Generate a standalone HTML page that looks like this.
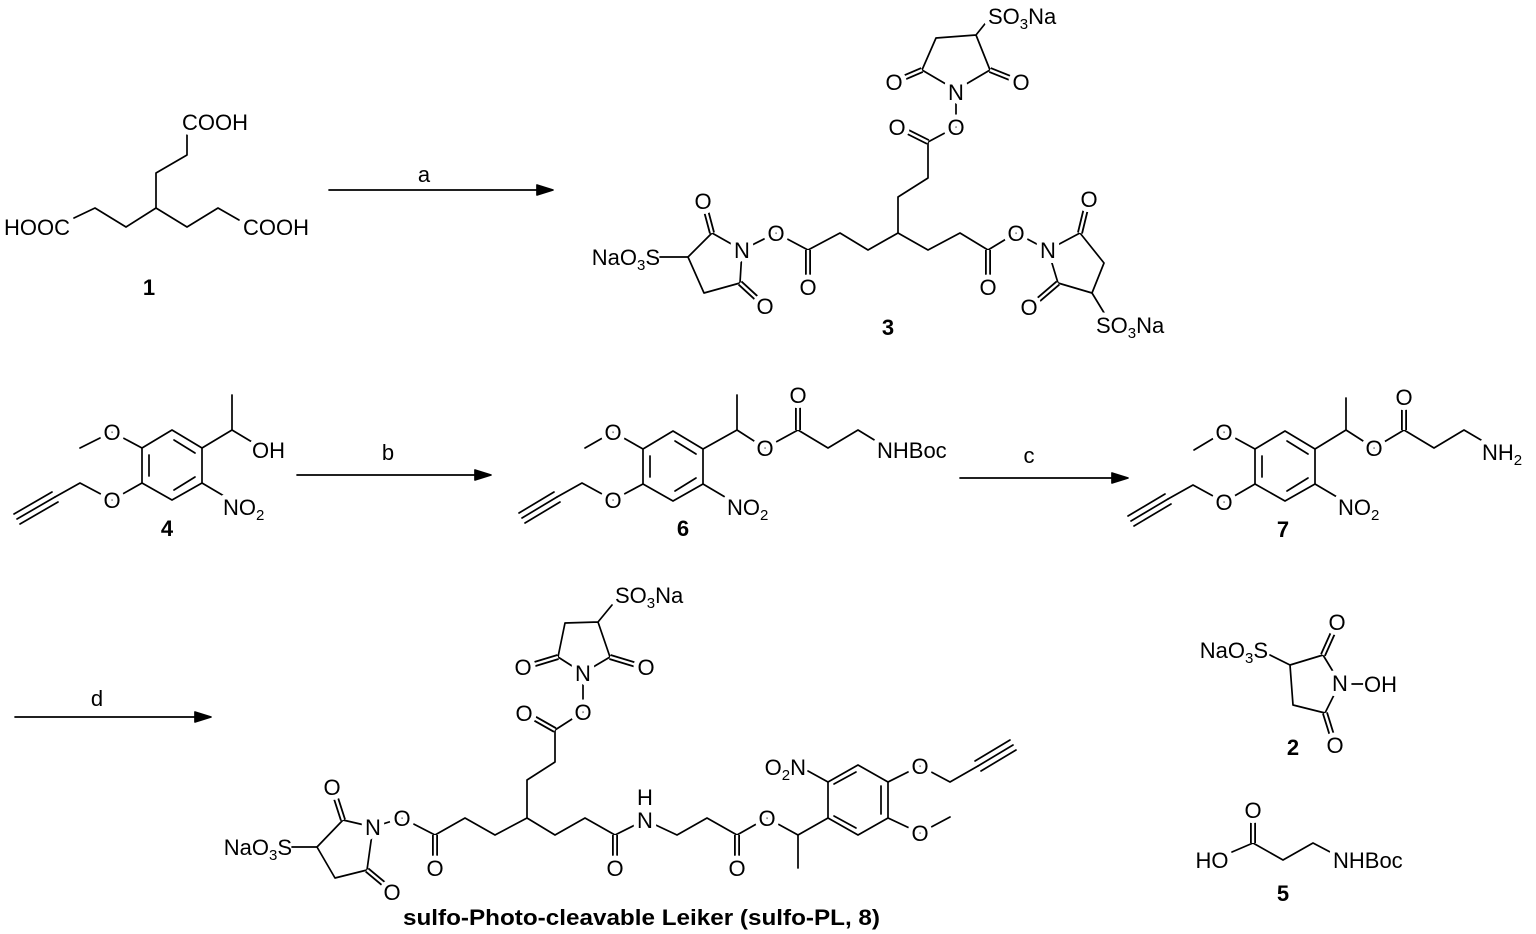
<!DOCTYPE html>
<html><head><meta charset="utf-8"><style>
html,body{margin:0;padding:0;background:#fff;}
svg{display:block;}
line,polyline,polygon{stroke:#000;stroke-width:1.7;fill:none;stroke-linecap:round;stroke-linejoin:round;}
.d1{stroke:#000;stroke-width:6;stroke-linecap:butt;}
.d2{stroke:#fff;stroke-width:2.4;stroke-linecap:butt;}
text{font-family:"Liberation Sans",sans-serif;font-size:22px;fill:#000;stroke:#fff;stroke-width:10px;paint-order:stroke;stroke-linejoin:round;}
tspan{stroke:none;}
.m{text-anchor:middle;}
.e{text-anchor:end;}
.b{font-weight:bold;}
.s{font-size:15px;}
</style></head><body>
<svg width="1536" height="934" viewBox="0 0 1536 934" xmlns="http://www.w3.org/2000/svg">
<defs>
<g id="ringA">
<polygon points="30,-17 0,-35 -30,-17 -30,18 0,35 30,18"/>
<line x1="23" y1="-12" x2="2" y2="-25"/>
<line x1="-23" y1="-10" x2="-23" y2="11"/>
<line x1="2" y1="25" x2="23" y2="12"/>
</g>
</defs>

<!-- compound 1 -->
<polyline points="187,132 187,155 156,173 156,208 126,227 95,208 74,218"/>
<polyline points="156,208 187,227 218,208 239,220"/>
<text class="m" x="215" y="130">COOH</text>
<text class="m" x="37" y="235">HOOC</text>
<text class="m" x="276" y="235">COOH</text>
<text class="m b" x="149" y="295">1</text>

<!-- arrow a -->
<line x1="329" y1="190" x2="540" y2="190"/>
<polygon points="553,190 537,185 537,195" style="fill:#000"/>
<text class="m" x="424" y="182">a</text>

<!-- compound 3 -->
<polyline points="988,20 976,35 936,38 922,70 956,90 990,70 976,35"/>
<line class="d1" x1="922" y1="70" x2="894" y2="82"/><line class="d2" x1="922" y1="70" x2="894" y2="82"/>
<line class="d1" x1="990" y1="70" x2="1020" y2="82"/><line class="d2" x1="990" y1="70" x2="1020" y2="82"/>
<polyline points="956,90 956,127 928,142 928,178 898,197 898,233 868,250 840,233 808,250 776,233 742,250"/>
<line class="d1" x1="928" y1="142" x2="898" y2="127"/><line class="d2" x1="928" y1="142" x2="898" y2="127"/>
<line class="d1" x1="808" y1="250" x2="808" y2="287"/><line class="d2" x1="808" y1="250" x2="808" y2="287"/>
<polyline points="742,250 712,233 688,257 704,293 740,283 742,250"/>
<line x1="688" y1="257" x2="660" y2="257"/>
<line class="d1" x1="712" y1="233" x2="704" y2="203"/><line class="d2" x1="712" y1="233" x2="704" y2="203"/>
<line class="d1" x1="740" y1="283" x2="764" y2="305"/><line class="d2" x1="740" y1="283" x2="764" y2="305"/>
<polyline points="898,233 928,250 960,233 988,250 1016,233 1048,250"/>
<line class="d1" x1="988" y1="250" x2="988" y2="287"/><line class="d2" x1="988" y1="250" x2="988" y2="287"/>
<polyline points="1048,250 1080,233 1104,263 1092,293 1058,283 1048,250"/>
<line x1="1092" y1="293" x2="1106" y2="316"/>
<line class="d1" x1="1080" y1="233" x2="1088" y2="200"/><line class="d2" x1="1080" y1="233" x2="1088" y2="200"/>
<line class="d1" x1="1058" y1="283" x2="1030" y2="307"/><line class="d2" x1="1058" y1="283" x2="1030" y2="307"/>
<text x="988" y="24">SO<tspan class="s" dy="5">3</tspan><tspan dy="-5">Na</tspan></text>
<text class="m" x="894" y="90">O</text>
<text class="m" x="1021" y="90">O</text>
<text class="m" x="956" y="100">N</text>
<text class="m" x="956" y="135">O</text>
<text class="m" x="897" y="135">O</text>
<text class="m" x="776" y="241">O</text>
<text class="m" x="808" y="295">O</text>
<text class="m" x="742" y="258">N</text>
<text class="m" x="703" y="209">O</text>
<text class="m" x="765" y="314">O</text>
<text class="e" x="660" y="265">NaO<tspan class="s" dy="5">3</tspan><tspan dy="-5">S</tspan></text>
<text class="m" x="1016" y="241">O</text>
<text class="m" x="988" y="295">O</text>
<text class="m" x="1048" y="258">N</text>
<text class="m" x="1089" y="207">O</text>
<text class="m" x="1029" y="315">O</text>
<text x="1096" y="333">SO<tspan class="s" dy="5">3</tspan><tspan dy="-5">Na</tspan></text>
<text class="m b" x="888" y="335">3</text>

<!-- compound 4 -->
<use href="#ringA" transform="translate(172,465)"/>
<polyline points="202,448 232,430 232,395"/>
<line x1="232" y1="430" x2="252" y2="442"/>
<text x="252" y="458">OH</text>
<polyline points="142,448 112,432 80,448"/>
<polyline points="142,483 112,500 80,483 55,497"/>
<line x1="55" y1="497" x2="17" y2="519"/>
<line x1="52" y1="492" x2="14" y2="514"/>
<line x1="58" y1="502" x2="20" y2="524"/>
<line x1="202" y1="483" x2="224" y2="496"/>
<text class="m" x="112" y="440">O</text>
<text class="m" x="112" y="508">O</text>
<text x="223" y="515">NO<tspan class="s" dy="5">2</tspan></text>
<text class="m b" x="167" y="536">4</text>

<!-- arrow b -->
<line x1="297" y1="475" x2="478" y2="475"/>
<polygon points="491,475 475,470 475,480" style="fill:#000"/>
<text class="m" x="388" y="460">b</text>

<!-- compound 6 -->
<use href="#ringA" transform="translate(673,466)"/>
<polyline points="703,449 737,430 737,395"/>
<polyline points="737,430 765,448 798,430 828,448 858,430 876,441"/>
<line class="d1" x1="798" y1="430" x2="798" y2="398"/><line class="d2" x1="798" y1="430" x2="798" y2="398"/>
<polyline points="643,449 613,432 585,448"/>
<polyline points="643,484 613,500 582,483 557,497"/>
<line x1="557" y1="497" x2="522" y2="518"/>
<line x1="554" y1="492" x2="519" y2="513"/>
<line x1="560" y1="502" x2="525" y2="523"/>
<line x1="703" y1="484" x2="725" y2="497"/>
<text class="m" x="765" y="456">O</text>
<text class="m" x="798" y="403">O</text>
<text x="877" y="458">NHBoc</text>
<text class="m" x="613" y="440">O</text>
<text class="m" x="613" y="508">O</text>
<text x="727" y="515">NO<tspan class="s" dy="5">2</tspan></text>
<text class="m b" x="683" y="536">6</text>

<!-- arrow c -->
<line x1="960" y1="478" x2="1115" y2="478"/>
<polygon points="1128,478 1112,473 1112,483" style="fill:#000"/>
<text class="m" x="1029" y="463">c</text>

<!-- compound 7 -->
<use href="#ringA" transform="translate(1285,466)"/>
<polyline points="1315,449 1346,430 1346,398"/>
<polyline points="1346,430 1374,448 1404,430 1434,448 1464,430 1481,440"/>
<line class="d1" x1="1404" y1="430" x2="1404" y2="400"/><line class="d2" x1="1404" y1="430" x2="1404" y2="400"/>
<polyline points="1255,449 1224,432 1194,450"/>
<polyline points="1255,484 1224,502 1193,485 1168,499"/>
<line x1="1168" y1="499" x2="1131" y2="521"/>
<line x1="1165" y1="494" x2="1128" y2="516"/>
<line x1="1171" y1="504" x2="1134" y2="526"/>
<line x1="1315" y1="484" x2="1337" y2="497"/>
<text class="m" x="1374" y="456">O</text>
<text class="m" x="1404" y="405">O</text>
<text x="1482" y="460">NH<tspan class="s" dy="5">2</tspan></text>
<text class="m" x="1224" y="440">O</text>
<text class="m" x="1224" y="510">O</text>
<text x="1338" y="515">NO<tspan class="s" dy="5">2</tspan></text>
<text class="m b" x="1283" y="537">7</text>

<!-- arrow d -->
<line x1="15" y1="717" x2="198" y2="717"/>
<polygon points="211,717 195,712 195,722" style="fill:#000"/>
<text class="m" x="97" y="706">d</text>

<!-- compound 8 -->
<polyline points="612,605 598,622 565,623 558,657 583,673 610,657 598,622"/>
<line class="d1" x1="558" y1="657" x2="525" y2="667"/><line class="d2" x1="558" y1="657" x2="525" y2="667"/>
<line class="d1" x1="610" y1="657" x2="643" y2="667"/><line class="d2" x1="610" y1="657" x2="643" y2="667"/>
<polyline points="583,673 583,712 555,730 555,762 527,780 527,818 495,835 465,818 435,835 402,818 373,827"/>
<line class="d1" x1="555" y1="730" x2="525" y2="713"/><line class="d2" x1="555" y1="730" x2="525" y2="713"/>
<line class="d1" x1="435" y1="835" x2="435" y2="866"/><line class="d2" x1="435" y1="835" x2="435" y2="866"/>
<polyline points="373,827 343,820 317,847 335,878 367,870 373,827"/>
<line x1="317" y1="847" x2="292" y2="847"/>
<line class="d1" x1="343" y1="820" x2="333" y2="789"/><line class="d2" x1="343" y1="820" x2="333" y2="789"/>
<line class="d1" x1="367" y1="870" x2="391" y2="890"/><line class="d2" x1="367" y1="870" x2="391" y2="890"/>
<polyline points="527,818 555,835 585,818 615,835 645,820 677,835 707,818 737,835 767,818 798,835 828,818"/>
<line class="d1" x1="615" y1="835" x2="615" y2="866"/><line class="d2" x1="615" y1="835" x2="615" y2="866"/>
<line class="d1" x1="737" y1="835" x2="737" y2="866"/><line class="d2" x1="737" y1="835" x2="737" y2="866"/>
<line x1="798" y1="835" x2="798" y2="868"/>
<polygon points="828,818 828,782 858,765 888,782 888,818 858,835"/>
<line x1="834" y1="784" x2="856" y2="772"/>
<line x1="881" y1="786" x2="881" y2="814"/>
<line x1="834" y1="816" x2="856" y2="828"/>
<line x1="828" y1="782" x2="808" y2="771"/>
<polyline points="888,782 920,766 950,782 978,766"/>
<line x1="978" y1="766" x2="1013" y2="745"/>
<line x1="975" y1="761" x2="1010" y2="740"/>
<line x1="981" y1="771" x2="1016" y2="750"/>
<polyline points="888,818 920,833 950,817"/>
<text x="615" y="603">SO<tspan class="s" dy="5">3</tspan><tspan dy="-5">Na</tspan></text>
<text class="m" x="523" y="675">O</text>
<text class="m" x="646" y="675">O</text>
<text class="m" x="583" y="681">N</text>
<text class="m" x="583" y="720">O</text>
<text class="m" x="524" y="721">O</text>
<text class="m" x="402" y="826">O</text>
<text class="m" x="435" y="876">O</text>
<text class="m" x="373" y="835">N</text>
<text class="m" x="332" y="795">O</text>
<text class="m" x="392" y="900">O</text>
<text class="e" x="292" y="855">NaO<tspan class="s" dy="5">3</tspan><tspan dy="-5">S</tspan></text>
<text class="m" x="615" y="876">O</text>
<text class="m" x="645" y="828">N</text>
<text class="m" x="645" y="805">H</text>
<text class="m" x="737" y="876">O</text>
<text class="m" x="767" y="826">O</text>
<text class="e" x="806" y="775">O<tspan class="s" dy="5">2</tspan><tspan dy="-5">N</tspan></text>
<text class="m" x="920" y="774">O</text>
<text class="m" x="920" y="841">O</text>
<text class="b" x="403" y="925" textLength="477" lengthAdjust="spacingAndGlyphs">sulfo-Photo-cleavable Leiker (sulfo-PL, 8)</text>

<!-- compound 2 -->
<polyline points="1270,655 1290,665 1323,655 1340,683 1325,713 1293,705 1290,665"/>
<line class="d1" x1="1323" y1="655" x2="1336" y2="626"/><line class="d2" x1="1323" y1="655" x2="1336" y2="626"/>
<line class="d1" x1="1325" y1="713" x2="1334" y2="742"/><line class="d2" x1="1325" y1="713" x2="1334" y2="742"/>
<line x1="1352" y1="684" x2="1364" y2="684"/>
<text class="e" x="1268" y="658">NaO<tspan class="s" dy="5">3</tspan><tspan dy="-5">S</tspan></text>
<text class="m" x="1337" y="630">O</text>
<text class="m" x="1340" y="691">N</text>
<text x="1364" y="692" style="stroke-width:4px">OH</text>
<text class="m" x="1335" y="753">O</text>
<text class="m b" x="1293" y="755">2</text>

<!-- compound 5 -->
<polyline points="1232,852 1253,843 1283,860 1313,843 1332,853"/>
<line class="d1" x1="1253" y1="843" x2="1253" y2="814"/><line class="d2" x1="1253" y1="843" x2="1253" y2="814"/>
<text class="m" x="1212" y="868">HO</text>
<text class="m" x="1253" y="818">O</text>
<text x="1333" y="868">NHBoc</text>
<text class="m b" x="1283" y="901">5</text>
</svg>
</body></html>
